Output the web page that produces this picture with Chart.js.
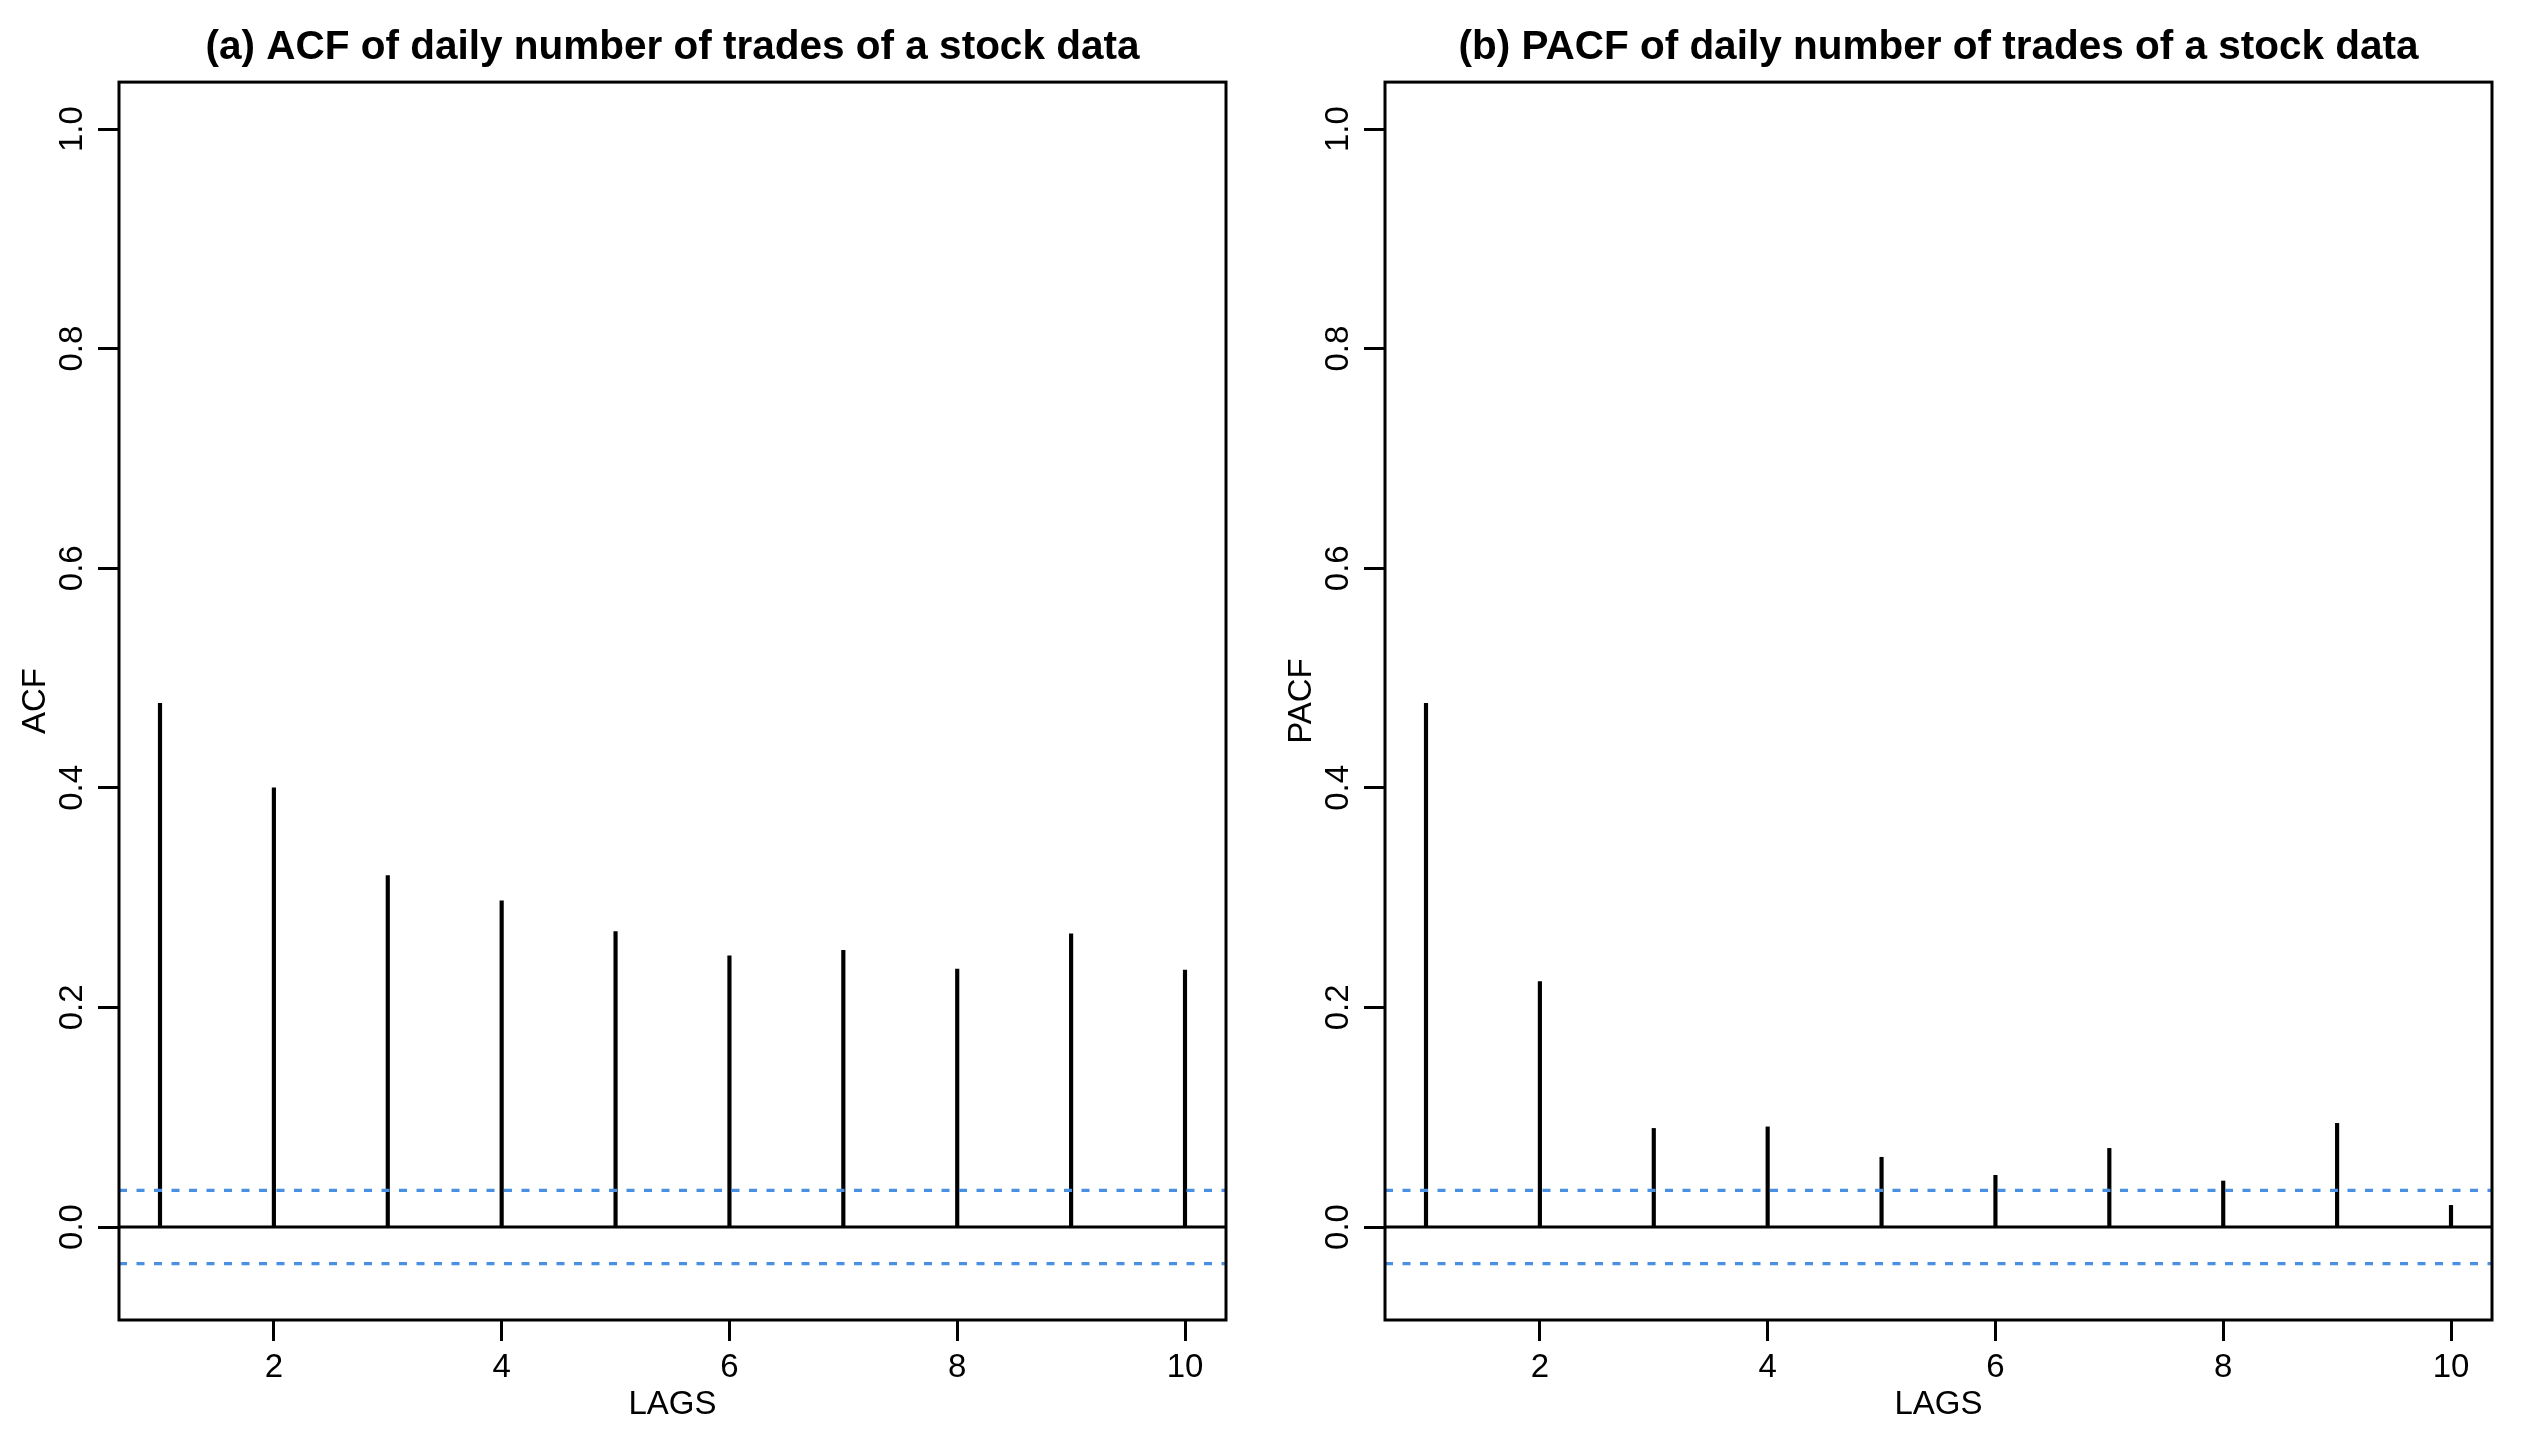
<!DOCTYPE html>
<html>
<head>
<meta charset="utf-8">
<script src="https://cdn.jsdelivr.net/npm/chart.js@4.4.1/dist/chart.umd.min.js"></script>
<style>
  html, body { margin: 0; padding: 0; background: #fff; }
  body { width: 2528px; height: 1429px; position: relative; overflow: hidden; }
  canvas { position: absolute; top: 0; }
  #acfChart { left: 0; }
  #pacfChart { left: 1266px; }
</style>
</head>
<body>
<canvas id="acfChart" width="1262" height="1429"></canvas>
<canvas id="pacfChart" width="1262" height="1429"></canvas>
<script>
const lags = [1, 2, 3, 4, 5, 6, 7, 8, 9, 10];
const acfValues = [0.477, 0.400, 0.320, 0.297, 0.269, 0.247, 0.252, 0.235, 0.267, 0.234];
const pacfValues = [0.477, 0.2235, 0.0898, 0.0912, 0.0635, 0.0471, 0.0716, 0.0419, 0.0944, 0.0197];
const ciBound = 0.0334;
const xTicks = [2, 4, 6, 8, 10];
const yTicks = [0, 0.2, 0.4, 0.6, 0.8, 1.0];
const yTickLabels = ['0.0', '0.2', '0.4', '0.6', '0.8', '1.0'];
const xMin = 0.64, xMax = 10.36;
const yMin = -0.0847, yMax = 1.0428;

const FONT = "'Liberation Sans', Arial, sans-serif";
const ciColor = '#4a90e2';

// box round the plot area, like R's box()
const boxPlugin = {
    id: 'box',
    afterDraw(chart) {
        const a = chart.chartArea, ctx = chart.ctx;
        ctx.save();
        ctx.strokeStyle = '#000';
        ctx.lineWidth = 3;
        ctx.strokeRect(a.left, a.top, a.right - a.left, a.bottom - a.top);
        ctx.restore();
    }
};

function makeChart(id, title, yLabel, values) {
    const ctx = document.getElementById(id).getContext('2d');
    return new Chart(ctx, {
        type: 'line',
        data: {
            datasets: [
                {
                    type: 'bar',
                    data: lags.map((l, i) => ({ x: l, y: values[i] })),
                    backgroundColor: '#000',
                    barThickness: 3.5,
                    order: 3
                },
                {
                    data: [{ x: xMin, y: 0 }, { x: xMax, y: 0 }],
                    borderColor: '#000',
                    borderWidth: 3,
                    pointRadius: 0,
                    order: 2
                },
                {
                    data: [{ x: xMin, y: ciBound }, { x: xMax, y: ciBound }],
                    borderColor: ciColor,
                    borderWidth: 3.2,
                    borderDash: [8, 9.5],
                    pointRadius: 0,
                    order: 1
                },
                {
                    data: [{ x: xMin, y: -ciBound }, { x: xMax, y: -ciBound }],
                    borderColor: ciColor,
                    borderWidth: 3.2,
                    borderDash: [8, 9.5],
                    pointRadius: 0,
                    order: 1
                }
            ]
        },
        options: {
            responsive: false,
            animation: false,
            devicePixelRatio: 1,
            layout: { padding: { left: 0, right: 36, top: 0, bottom: 0 } },
            plugins: {
                legend: { display: false },
                tooltip: { enabled: false },
                title: {
                    display: true,
                    text: title,
                    fullSize: false,
                    color: '#000',
                    font: { family: FONT, size: 40.5, weight: 'bold' },
                    padding: { top: 23.5, bottom: 10 }
                }
            },
            scales: {
                x: {
                    type: 'linear',
                    min: xMin,
                    max: xMax,
                    offset: false,
                    afterFit: s => { s.height = 109; },
                    afterBuildTicks: s => { s.ticks = xTicks.map(v => ({ value: v })); },
                    grid: { display: true, offset: false, drawOnChartArea: false, drawTicks: true, tickLength: 21, tickWidth: 3, tickColor: '#000' },
                    border: { display: false },
                    ticks: { color: '#000', padding: 7, autoSkip: false, maxRotation: 0, font: { family: FONT, size: 33 } },
                    title: { display: true, text: 'LAGS', color: '#000', font: { family: FONT, size: 33 }, padding: { top: 0, bottom: 4 } }
                },
                y: {
                    type: 'linear',
                    min: yMin,
                    max: yMax,
                    afterFit: s => { s.width = 119; },
                    afterBuildTicks: s => { s.ticks = yTicks.map(v => ({ value: v })); },
                    grid: { display: true, drawOnChartArea: false, drawTicks: true, tickLength: 21, tickWidth: 3, tickColor: '#000' },
                    border: { display: false },
                    ticks: {
                        color: '#000', padding: 2.5, autoSkip: false,
                        minRotation: 90, maxRotation: 90, crossAlign: 'center',
                        font: { family: FONT, size: 33 },
                        callback: (v, i) => yTickLabels[i]
                    },
                    title: { display: true, text: yLabel, color: '#000', font: { family: FONT, size: 33 }, padding: { top: 15.7, bottom: 0 } }
                }
            }
        },
        plugins: [boxPlugin]
    });
}

makeChart('acfChart', '(a) ACF of daily number of trades of a stock data', 'ACF', acfValues);
makeChart('pacfChart', '(b) PACF of daily number of trades of a stock data', 'PACF', pacfValues);
</script>
</body>
</html>
